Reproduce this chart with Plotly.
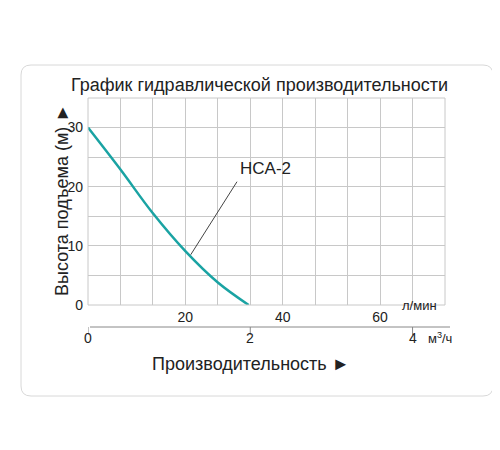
import plotly.graph_objects as go

flow_lpm = [0, 6.67, 13.33, 20, 26.67, 33]
head_m = [30, 22.9, 15.5, 9.1, 3.8, 0]
y_ticks = [0, 10, 20, 30]
x_ticks = [20, 40, 60]
m3h_ticks = [0, 2, 4]
model = "HCA-2"

L, R, T, B = 80, 437, 90, 297
W, H = 500, 450
XMAX, YMAX = 73.33, 35

def px(x):  # pixel -> paper x
    return (x - L) / (R - L)
def py(y):
    return (B - y) / (B - T)

fig = go.Figure()
fig.add_trace(go.Scatter(x=flow_lpm, y=head_m, mode="lines", line=dict(color="#1aa3a3", width=2.5, shape="spline"),
                         hoverinfo="skip", showlegend=False))

font = "Liberation Sans, Arial, sans-serif"
fig.update_layout(
    width=W, height=H, margin=dict(l=L, r=W - R, t=T, b=H - B, autoexpand=False),
    paper_bgcolor="white", plot_bgcolor="white",
    font=dict(family=font, color="#222", size=14),
    xaxis=dict(range=[0, XMAX], tickvals=x_ticks, showgrid=True, gridcolor="#c8c8c8", gridwidth=1,
               minor=dict(dtick=20/3, tick0=0, showgrid=True, gridcolor="#c8c8c8", gridwidth=1),
               showline=False, zeroline=False, ticks="", ticklabelstandoff=2, tickfont=dict(size=14)),
    yaxis=dict(range=[0, YMAX], tickvals=y_ticks, showgrid=True, gridcolor="#c8c8c8",
               minor=dict(dtick=5, showgrid=True, gridcolor="#c8c8c8"),
               showline=False, zeroline=False, ticks="", ticklabelstandoff=4, tickfont=dict(size=14)),
)
for s in [dict(x0=0, x1=1, y0=1, y1=1), dict(x0=0, x1=1, y0=0, y1=0), dict(x0=1, x1=1, y0=0, y1=1), dict(x0=0, x1=0, y0=0, y1=1)]:
    fig.add_shape(type="line", xref="paper", yref="paper", line=dict(color="#c8c8c8", width=1), **s)

x0, x1, y0, y1, r = 13, 485, 57, 388, 10
path = (f"M {px(x0+r)},{py(y0)} L {px(x1-r)},{py(y0)} Q {px(x1)},{py(y0)} {px(x1)},{py(y0+r)} "
        f"L {px(x1)},{py(y1-r)} Q {px(x1)},{py(y1)} {px(x1-r)},{py(y1)} L {px(x0+r)},{py(y1)} "
        f"Q {px(x0)},{py(y1)} {px(x0)},{py(y1-r)} L {px(x0)},{py(y0+r)} Q {px(x0)},{py(y0)} {px(x0+r)},{py(y0)} Z")
fig.add_shape(type="path", path=path, xref="paper", yref="paper", line=dict(color="#d8d8d8", width=1))

fig.add_shape(type="line", xref="paper", yref="paper", x0=px(82), x1=px(442), y0=py(319), y1=py(319),
              line=dict(color="#888", width=1))
for v in m3h_ticks:
    xv = v * 1000 / 60
    fig.add_shape(type="line", xref="x", yref="paper", x0=xv, x1=xv, y0=py(319), y1=py(327),
                  line=dict(color="#888", width=1))
    fig.add_annotation(x=xv, xref="x", y=py(340), yref="paper", text=str(v), showarrow=False,
                       font=dict(size=14))
fig.add_annotation(x=px(418), y=py(340), xref="paper", yref="paper", text="м<sup>3</sup>/ч", showarrow=False,
                   xanchor="left", font=dict(size=13))
fig.add_annotation(x=px(392), y=py(307), xref="paper", yref="paper", text="л/мин", showarrow=False,
                   xanchor="left", font=dict(size=13))

fig.add_annotation(x=px(251), y=py(65), xref="paper", yref="paper", text="График гидравлической производительности",
                   showarrow=False, font=dict(size=18))
fig.add_annotation(x=px(243), y=py(368), xref="paper", yref="paper", text="Производительность ►",
                   showarrow=False, font=dict(size=18))
fig.add_annotation(x=px(42), y=py(192), xref="paper", yref="paper", text="Высота подъема (м) ►",
                   showarrow=False, textangle=-90, font=dict(size=18))
fig.add_annotation(x=21.1, y=8.5, ax=30.8, ay=21.1, xref="x", yref="y", axref="x", ayref="y",
                   text="", showarrow=True, arrowhead=0, arrowwidth=1, arrowcolor="#444")
fig.add_annotation(x=30.8, y=21.1, xref="x", yref="y", text=model, showarrow=False,
                   xanchor="left", yanchor="bottom", font=dict(size=17))

fig.write_html("out.html")
